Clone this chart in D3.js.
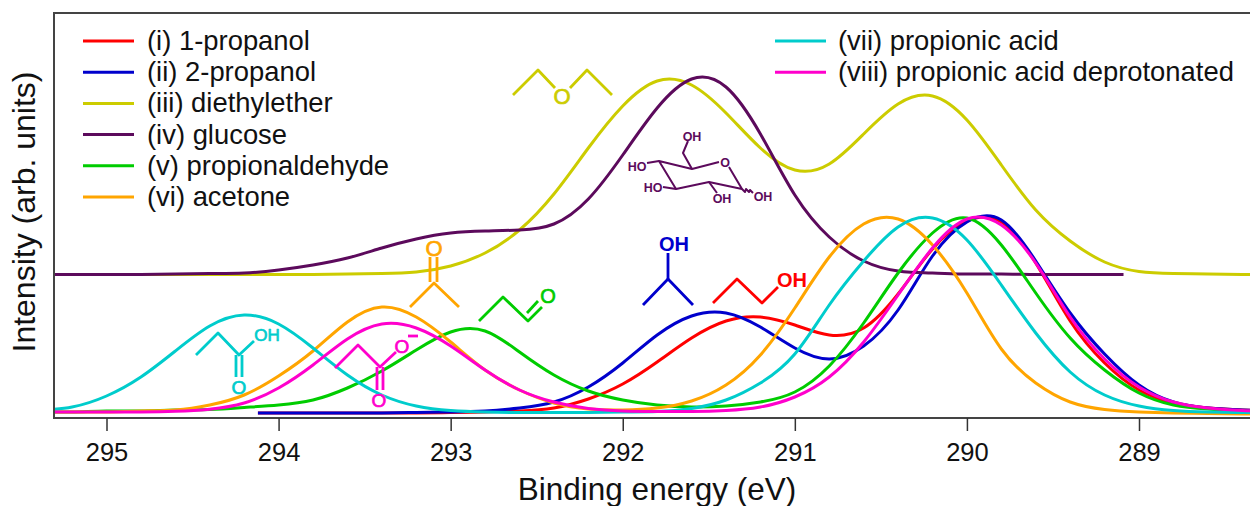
<!DOCTYPE html>
<html>
<head>
<meta charset="utf-8">
<script src="https://cdnjs.cloudflare.com/ajax/libs/d3/7.8.5/d3.min.js"></script>
<style>
  html, body { margin: 0; padding: 0; background: #fff; overflow: hidden; }
  svg { display: block; font-family: "Liberation Sans", Arial, sans-serif; }
</style>
</head>
<body>
<svg id="chart" width="1250" height="506"></svg>
<script>
var energy = [295.4, 295.2, 295.0, 294.8, 294.6, 294.4, 294.2, 294.0, 293.8, 293.6, 293.4, 293.2,
  293.0, 292.8, 292.6, 292.4, 292.2, 292.0, 291.8, 291.6, 291.4, 291.2, 291.0, 290.8, 290.6,
  290.4, 290.2, 290.0, 289.8, 289.6, 289.4, 289.2, 289.0, 288.8, 288.6, 288.4, 288.2];

var tickValues = [295, 294, 293, 292, 291, 290, 289];

// 1-propanol and 2-propanol only start at 294.12 eV
var energyPropanol = [294.12].concat(energy.slice(7));
var propanol1 = [0, 0, 0, 0, 0, 0, 0.5, 1, 2, 5, 14, 29, 51, 75, 92, 96, 88, 78, 85, 119, 164,
  192, 191, 150, 92, 50, 23, 10, 5, 3, 2];
var propanol2 = [0, 0, 0, 0, 0, 0.5, 1, 2, 5, 11, 26, 50, 78, 97, 100, 86, 65, 54, 67, 103,
  157, 191, 193, 152, 100, 59, 28, 11, 5, 3, 2];

var diethylether = [138.5, 138.5, 138.5, 138.5, 138.5, 138.5, 138.5, 138.5, 138.5, 139, 139.5, 141,
  147, 160, 183, 219, 265, 307, 332, 328, 300, 265, 243, 249, 279, 309, 317, 293, 248, 203,
  172, 151, 141.5, 139.5, 139, 138.5, 138.5];

// glucose ends at 289.09 eV
var energyGlucose = energy.slice(0, 32).concat([289.09]);
var glucose = [138.5, 138.5, 138.5, 138.5, 139, 139.5, 140, 143, 148, 155, 165, 174, 180, 182, 183,
  189, 214, 258, 305, 334, 326, 279, 218, 176, 152, 142, 140, 139, 139, 138.5, 138.5, 138.5, 138.5];

var propionaldehyde = [1, 1, 2, 2, 3, 3.5, 5.5, 8, 13, 25, 42, 63, 81, 82, 61, 38, 22, 13, 8, 6, 7,
  11, 21, 47, 90, 140, 180, 195, 168, 120, 75, 43, 20, 8, 4, 2, 1];
var acetone = [1, 1, 1, 2, 3, 8, 18, 37, 62, 91, 106, 96, 71, 43, 23, 10, 4, 3, 5, 12, 28, 58, 105,
  156, 189, 194, 168, 120, 64, 30, 11, 3.5, 1, 0, -0.5, -1, -1];
var propionicAcid = [2.5, 6, 17, 36, 62, 87, 98, 89, 65, 38, 18, 7, 2.5, 1, 0.5, 0.5, 0.5, 1, 1.5,
  4.5, 13, 30, 59, 108, 152, 186, 195, 173, 128, 80, 41, 18, 7, 2.5, 1, 0.5, 0];
var deprotonated = [1, 1, 1, 1.1, 1.7, 3.8, 10, 25, 48, 74, 89, 85, 67, 43, 23, 11, 4.5, 2, 1.5, 1.5,
  2.5, 6, 16, 36, 71, 118, 165, 194, 188, 150, 96, 54, 26, 11, 5, 2.5, 1.5];

var names = ['(i) 1-propanol', '(ii) 2-propanol', '(iii) diethylether', '(iv) glucose',
  '(v) propionaldehyde', '(vi) acetone', '(vii) propionic acid', '(viii) propionic acid deprotonated'];
var colors = ['#ff0000', '#0000cc', '#cccc00', '#5c0a5c', '#00cc00', '#ffa500', '#00cccc', '#ff00cc'];

var seriesX = [energyPropanol, energyPropanol, energy, energyGlucose, energy, energy, energy, energy];
var seriesY = [propanol1, propanol2, diethylether, glucose, propionaldehyde, acetone, propionicAcid, deprotonated];

var svg = d3.select('#chart');
var plotLeft = 54, plotRight = 1254, plotTop = 13, plotBottom = 418;

var x = d3.scaleLinear().domain([295, 289]).range([106.5, 1139]);
var y = d3.scaleLinear().domain([-5, 400]).range([plotBottom, plotTop]);

svg.append('clipPath').attr('id', 'plot')
  .append('rect').attr('x', plotLeft).attr('y', plotTop)
  .attr('width', plotRight - plotLeft).attr('height', plotBottom - plotTop);

var line = d3.line().curve(d3.curveNatural);

svg.append('g').attr('clip-path', 'url(#plot)')
  .selectAll('path')
  .data(d3.range(seriesY.length))
  .enter().append('path')
    .attr('fill', 'none')
    .attr('stroke', function(i) { return colors[i]; })
    .attr('stroke-width', 3)
    .attr('d', function(i) {
      return line(seriesY[i].map(function(v, k) { return [x(seriesX[i][k]), y(v)]; }));
    });

// frame and axis
svg.append('rect')
  .attr('x', plotLeft).attr('y', plotTop)
  .attr('width', plotRight - plotLeft).attr('height', plotBottom - plotTop)
  .attr('fill', 'none').attr('stroke', '#444').attr('stroke-width', 2);

var axis = svg.append('g')
  .attr('transform', 'translate(0,' + plotBottom + ')')
  .call(d3.axisBottom(x).tickValues(tickValues).tickSize(13).tickPadding(12).tickFormat(d3.format('d')));
axis.select('.domain').remove();
axis.selectAll('line').attr('stroke', '#333').attr('stroke-width', 1.5);
axis.selectAll('text').attr('fill', '#111').style('font-size', '25.5px');

svg.append('text')
  .attr('x', 657).attr('y', 499.5)
  .attr('text-anchor', 'middle').attr('fill', '#111').style('font-size', '31.5px')
  .text('Binding energy (eV)');
svg.append('text')
  .attr('transform', 'translate(35,212) rotate(-90)')
  .attr('text-anchor', 'middle').attr('fill', '#111').style('font-size', '32px')
  .text('Intensity (arb. units)');

// legend, two columns
var legend = svg.append('g').selectAll('g')
  .data(names)
  .enter().append('g')
    .attr('transform', function(d, i) {
      return i < 6 ? 'translate(83,' + (41 + i * 31.2) + ')' : 'translate(775,' + (41 + (i - 6) * 31.2) + ')';
    });
legend.append('line')
  .attr('x1', 0).attr('x2', 51)
  .attr('stroke', function(d, i) { return colors[i]; })
  .attr('stroke-width', 3);
legend.append('text')
  .attr('x', function(d, i) { return i < 6 ? 64 : 63; })
  .attr('y', 9)
  .attr('fill', '#111')
  .style('font-size', '27.4px')
  .text(function(d) { return d; });

// molecule sketches
var mol = svg.append('g').attr('fill', 'none').attr('stroke-linejoin', 'round');

function bonds(color, width, lines) {
  lines.forEach(function(p) {
    mol.append('path').attr('stroke', color).attr('stroke-width', width)
      .attr('d', d3.line()(p));
  });
}
function label(color, size, weight, cx, cy, s) {
  mol.append('text').attr('x', cx).attr('y', cy + size * 0.36)
    .attr('text-anchor', 'middle').attr('fill', color)
    .attr('stroke', color).attr('stroke-width', weight == 'normal' ? 0.7 : 0)
    .style('font-size', size + 'px').style('font-weight', weight).text(s);
}

// diethylether
bonds(colors[2], 2.8, [[[513, 95], [538, 70], [555, 88]], [[570, 88], [587, 70], [612, 95]]]);
label(colors[2], 22, 'normal', 562, 96, 'O');

// 2-propanol
bonds(colors[1], 2.8, [[[668, 253], [668, 279]], [[643, 305], [668, 279], [693, 305]]]);
label(colors[1], 20, 'bold', 674, 244, 'OH');

// 1-propanol
bonds(colors[0], 2.8, [[[713, 303], [737, 279], [762, 303], [778, 287]]]);
label(colors[0], 20, 'bold', 792, 280, 'OH');

// acetone
bonds(colors[5], 2.8, [[[430, 257], [430, 282]], [[437, 257], [437, 282]], [[410, 307], [434, 283], [459, 307]]]);
label(colors[5], 22, 'normal', 434, 248, 'O');

// propionaldehyde
bonds(colors[4], 2.8, [[[479, 321], [503, 297], [528, 321], [542, 307]], [[527, 313], [538, 301]]]);
label(colors[4], 20, 'normal', 548, 296, 'O');

// propionic acid
bonds(colors[6], 2.8, [[[196, 355], [218, 333], [239, 355], [254, 341]], [[236, 355], [236, 377]], [[242, 355], [242, 377]]]);
label(colors[6], 17, 'normal', 267, 335, 'OH');
label(colors[6], 19, 'normal', 239, 387, 'O');

// propionic acid deprotonated
bonds(colors[7], 2.8, [[[335, 368], [358, 345], [380, 367], [396, 352]], [[377, 367], [377, 390]], [[383, 367], [383, 390]], [[408, 336], [418, 336]]]);
label(colors[7], 19, 'normal', 402, 346, 'O');
label(colors[7], 19, 'normal', 379, 400, 'O');

// glucose
bonds(colors[3], 2, [
  [[719, 162], [692, 169], [659, 161], [676, 189], [709, 182], [742, 189], [729, 167]],
  [[692, 169], [683, 153], [688, 141]],
  [[659, 161], [647, 163]],
  [[676, 189], [663, 187]],
  [[709, 182], [717, 193]],
  [[742, 189], [745, 192], [746, 189], [749, 192], [750, 190], [753, 193]]
]);
label(colors[3], 12.5, 'bold', 725, 162, 'O');
label(colors[3], 12.5, 'bold', 692, 136, 'OH');
label(colors[3], 12.5, 'bold', 637, 166, 'HO');
label(colors[3], 12.5, 'bold', 653, 187, 'HO');
label(colors[3], 12.5, 'bold', 722, 198, 'OH');
label(colors[3], 12.5, 'bold', 763, 196, 'OH');
</script>
</body>
</html>
